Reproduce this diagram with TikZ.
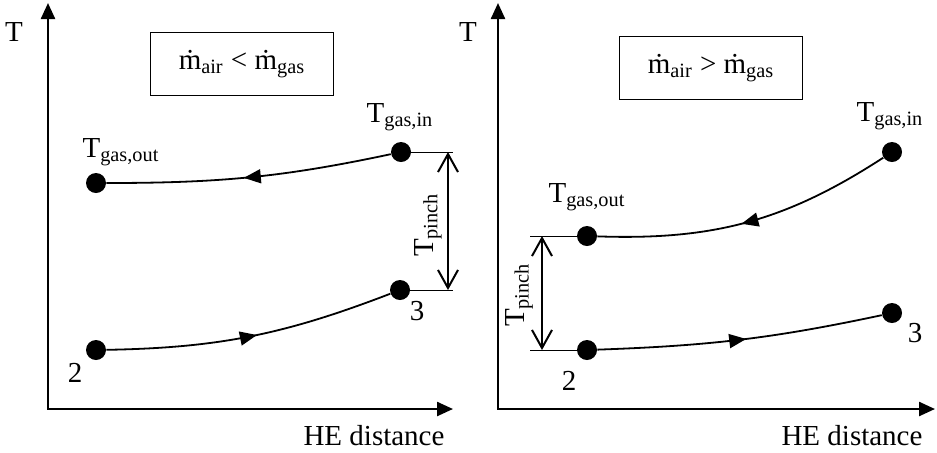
\documentclass[tikz,border=0pt]{standalone}
\usepackage{fontspec}
\setmainfont{Liberation Serif}
\usetikzlibrary{arrows.meta,decorations.markings}

\begin{document}
\begin{tikzpicture}[x=0.5pt, y=-0.5pt,
    every node/.style={font=\fontsize{14.5}{17}\selectfont},
    axis/.style={line width=1.2pt, {Triangle[length=8pt,width=7pt]}-{Triangle[length=8pt,width=7pt]}},
    pt/.style={circle, fill, inner sep=0pt, minimum size=10pt},
    flow/.style={line width=0.9pt, postaction={decorate},
        decoration={markings, mark=at position 0.52 with {\arrow{Triangle[length=8.5pt,width=7pt]}}}},
    tick/.style={line width=0.5pt},
    pinch/.style={line width=1pt, {Straight Barb[length=9pt,width=10pt]}-{Straight Barb[length=9pt,width=10pt]}},
    ratio/.style={draw, line width=0.9pt, minimum width=91.5pt, minimum height=31.5pt}]

    \useasboundingbox (0,0) rectangle (937,452);

    % Left panel: axes
    \coordinate (ytopA) at (48,3);
    \coordinate (origA) at (48,409);
    \coordinate (xendA) at (453,409);
    \draw[axis] (ytopA) -- (origA) -- (xendA);
    \node at (14,32) {T};
    \node at (374,436) {HE distance};
    \node[ratio] at (242,64) {\.{m}\textsubscript{air} < \.{m}\textsubscript{gas}};

    % Left panel: the gas and air states
    \node[pt] (gasinA) at (401,152) {};
    \node[pt] (gasoutA) at (96,183) {};
    \node[pt] (twoA) at (96,350) {};
    \node[pt] (threeA) at (400,290) {};
    \draw[flow] (gasinA) to[out=192, in=0] (gasoutA);
    \draw[flow] (twoA) to[out=1, in=201] (threeA);

    % Label the states
    \node at (400,117) {T\textsubscript{gas,in}};
    \node at (121,152) {T\textsubscript{gas,out}};
    \node at (75,373) {2};
    \node at (417,311) {3};

    % Pinch at the hot end
    \coordinate (tickupA) at (453,152);
    \coordinate (tickdnA) at (453,290);
    \coordinate (pinchupA) at (448,152);
    \coordinate (pinchdnA) at (448,290);
    \draw[tick] (gasinA) -- (tickupA);
    \draw[tick] (threeA) -- (tickdnA);
    \draw[pinch] (pinchupA) -- (pinchdnA);
    \node[rotate=90] at (428,225) {T\textsubscript{pinch}};

    % Right panel: axes
    \coordinate (ytopB) at (498,3);
    \coordinate (origB) at (498,409);
    \coordinate (xendB) at (935,409);
    \draw[axis] (ytopB) -- (origB) -- (xendB);
    \node at (468,32) {T};
    \node at (852,436) {HE distance};
    \node[ratio] at (711,68) {\.{m}\textsubscript{air} > \.{m}\textsubscript{gas}};

    % Right panel: the gas and air states
    \node[pt] (gasinB) at (892,152) {};
    \node[pt] (gasoutB) at (587,236) {};
    \node[pt] (twoB) at (587,350) {};
    \node[pt] (threeB) at (892,313) {};
    \draw[flow] (gasinB) to[out=213, in=-2] (gasoutB);
    \draw[flow] (twoB) to[out=2, in=192] (threeB);

    % Label the states
    \node at (890,116) {T\textsubscript{gas,in}};
    \node at (587,197) {T\textsubscript{gas,out}};
    \node at (569,381) {2};
    \node at (915,333) {3};

    % Pinch at the cold end
    \coordinate (tickupB) at (530,236);
    \coordinate (tickdnB) at (530,350);
    \coordinate (pinchupB) at (542,236);
    \coordinate (pinchdnB) at (542,350);
    \draw[tick] (tickupB) -- (gasoutB);
    \draw[tick] (tickdnB) -- (twoB);
    \draw[pinch] (pinchupB) -- (pinchdnB);
    \node[rotate=90] at (519,295) {T\textsubscript{pinch}};
\end{tikzpicture}
\end{document}
